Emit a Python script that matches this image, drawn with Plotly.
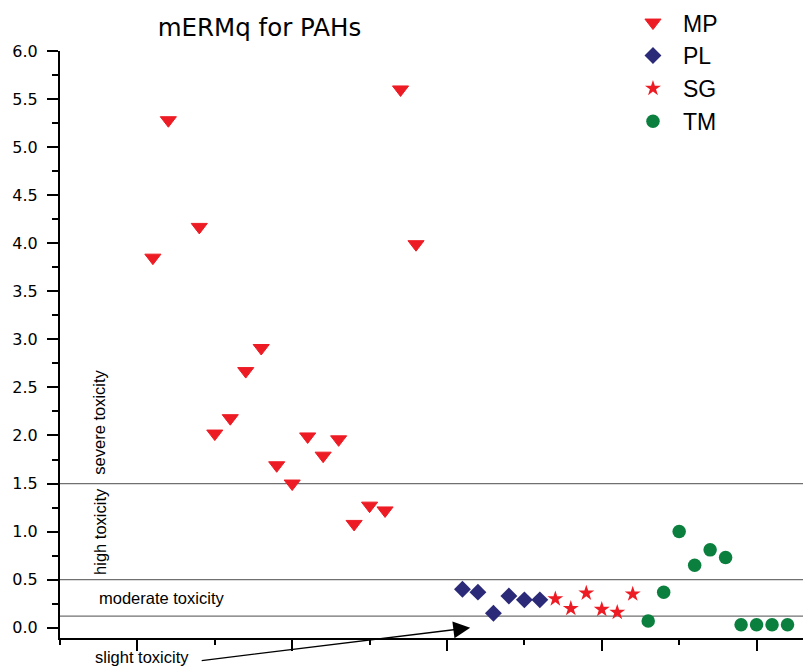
import plotly.graph_objects as go

# ---- data ----
mp_x = [6, 7, 9, 10, 11, 12, 13, 14, 15, 16, 17, 18, 19, 20, 21, 22, 23]
mp_y = [3.85, 5.28, 4.17, 2.02, 2.18, 2.67, 2.91, 1.69, 1.50, 1.99, 1.79, 1.96, 1.08, 1.27, 1.22, 5.60, 3.99]
pl_x = [26, 27, 28, 29, 30, 31]
pl_y = [0.40, 0.37, 0.15, 0.33, 0.29, 0.29]
sg_x = [32, 33, 34, 35, 36, 37]
sg_y = [0.30, 0.20, 0.36, 0.19, 0.16, 0.35]
tm_x = [38, 39, 40, 41, 42, 43, 44, 45, 46, 47]
tm_y = [0.07, 0.37, 1.00, 0.65, 0.81, 0.73, 0.03, 0.03, 0.03, 0.03]
thresholds = [1.5, 0.5, 0.12]

RED = "#ED1C24"
NAVY = "#2A2A78"
GREEN = "#0B7F3E"

fig = go.Figure()
fig.add_trace(go.Scatter(x=mp_x, y=mp_y, mode="markers", name="MP",
                         marker=dict(symbol="triangle-down", size=14, color=RED,
                                     line=dict(color=RED, width=1))))
fig.add_trace(go.Scatter(x=pl_x, y=pl_y, mode="markers", name="PL",
                         marker=dict(symbol="diamond", size=13, color=NAVY, line=dict(width=0))))
fig.add_trace(go.Scatter(x=sg_x, y=sg_y, mode="markers", name="SG",
                         marker=dict(symbol="star", size=12, color=RED, line=dict(width=0))))
fig.add_trace(go.Scatter(x=tm_x, y=tm_y, mode="markers", name="TM",
                         marker=dict(symbol="circle", size=13.5, color=GREEN, line=dict(width=0))))

for t in thresholds:
    fig.add_shape(type="line", xref="paper", x0=0, x1=1, yref="y", y0=t, y1=t,
                  line=dict(color="#707070", width=1.2), layer="below")

ann_font = dict(family="Liberation Sans, Arial", size=16.5, color="black")
fig.add_annotation(x=2.54, y=2.136, xref="x", yref="y", text="severe toxicity", textangle=-90,
                   showarrow=False, font=ann_font, xanchor="center", yanchor="middle")
fig.add_annotation(x=2.54, y=1.0, xref="x", yref="y", text="high toxicity", textangle=-90,
                   showarrow=False, font=ann_font, xanchor="center", yanchor="middle")
fig.add_annotation(x=2.37, y=0.31, xref="x", yref="y", text="moderate toxicity",
                   showarrow=False, font=ann_font, xanchor="left", yanchor="middle")
fig.add_annotation(x=(93.3 - 60) / 743, y=(638 - 656.7) / 587, xref="paper", yref="paper",
                   text="slight toxicity", showarrow=False, font=ann_font,
                   xanchor="left", yanchor="middle")
fig.add_annotation(x=26.5, y=0.0, xref="x", yref="y", text="", showarrow=True,
                   ax=-270, ay=33, arrowhead=2, arrowsize=2.6, arrowwidth=1.3, arrowcolor="black")

fig.update_layout(
    width=803, height=670,
    margin=dict(l=60, r=0, t=51, b=32),
    paper_bgcolor="white", plot_bgcolor="white",
    font=dict(family="Liberation Sans, Arial", color="black"),
    title=dict(text="mERMq for PAHs", x=0.2685, xref="paper", xanchor="center",
               y=1 - 27 / 670, yref="container", yanchor="middle",
               font=dict(family="DejaVu Sans", size=24.5, color="black")),
    showlegend=True,
    legend=dict(x=0.7577, xanchor="left", y=1.085, yanchor="top", xref="paper", yref="paper",
                bgcolor="rgba(0,0,0,0)", borderwidth=0, itemwidth=50,
                font=dict(family="Liberation Sans, Arial", size=23, color="black")),
)
fig.update_xaxes(range=[0, 48], showgrid=False, zeroline=False, showticklabels=False,
                 showline=True, linecolor="black", linewidth=2,
                 ticks="outside", tick0=5, dtick=10, ticklen=11, tickwidth=1.5, tickcolor="black",
                 minor=dict(ticks="outside", tick0=0, dtick=5, ticklen=5, tickwidth=1.5, tickcolor="black"))
fig.update_yaxes(range=[-0.107, 6.0], showgrid=False, zeroline=False,
                 showline=True, linecolor="black", linewidth=2,
                 ticks="outside", tick0=0, dtick=0.5, tickformat=".1f", ticklen=11, tickwidth=1.5,
                 tickcolor="black", ticklabelstandoff=6,
                 tickfont=dict(family="DejaVu Sans", size=16, color="black"),
                 minor=dict(ticks="outside", dtick=0.25, ticklen=6, tickwidth=1.5, tickcolor="black"))

fig.write_html("out.html")
